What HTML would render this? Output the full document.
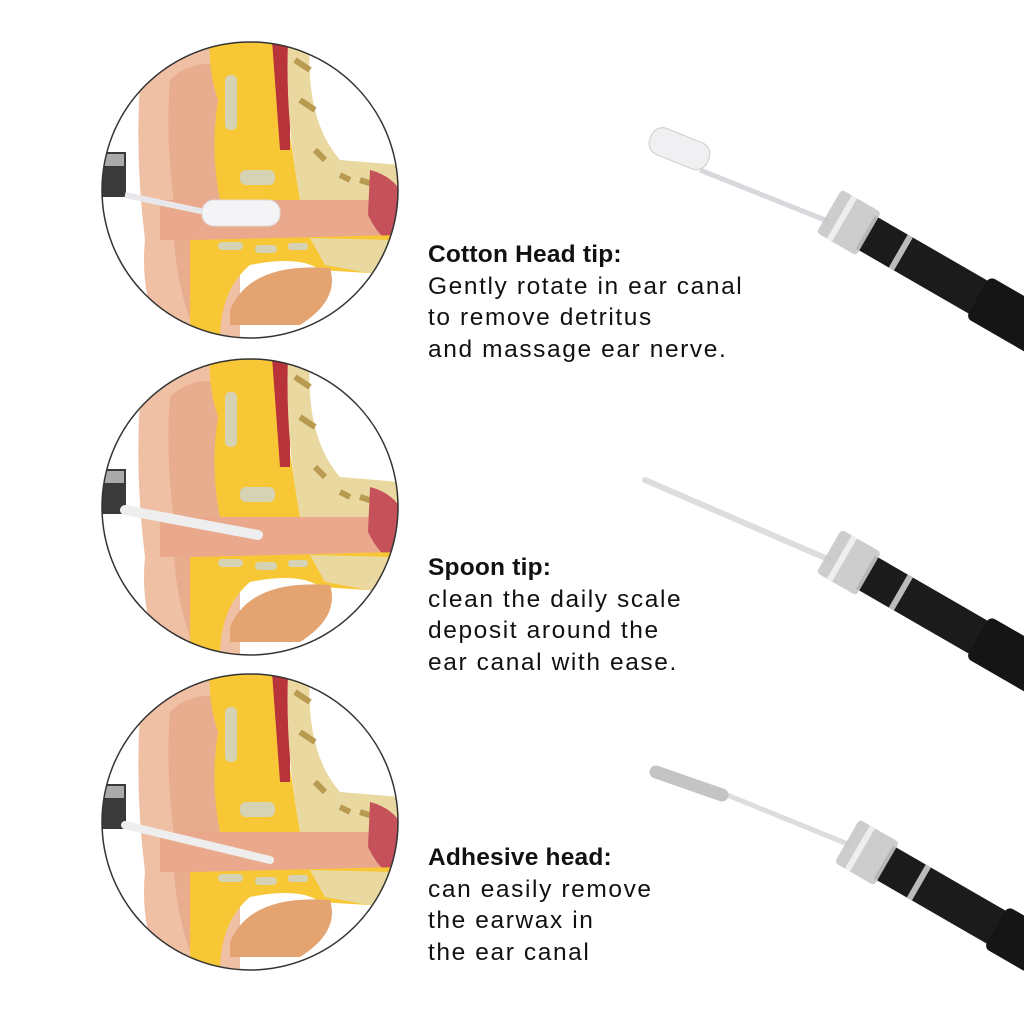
<!DOCTYPE html>
<html><head><meta charset="utf-8"><style>
body{margin:0;width:1024px;height:1024px;background:#fff;overflow:hidden;position:relative;font-family:"Liberation Sans",sans-serif}
.t{position:absolute;left:428px;font-size:24.5px;line-height:31.5px;color:#111;letter-spacing:1.6px}
.t b{font-weight:bold;letter-spacing:0.2px}
</style></head><body>
<svg width="1024" height="1024" style="position:absolute;left:0;top:0">
<defs>
<clipPath id="c"><circle cx="150" cy="150" r="148"/></clipPath>
<g id="ear">
<g clip-path="url(#c)">
<rect width="300" height="300" fill="#fff"/>
<path d="M40 40 Q60 10 110 5 L140 0 L140 300 L60 300 Q40 250 45 200 Q35 120 40 40Z" fill="#efc0a4"/>
<path d="M70 40 Q90 20 120 25 L120 280 L90 280 Q70 220 75 170 Q65 100 70 40Z" fill="#e8ac8e"/>
<path d="M110 0 L175 0 L200 160 L120 160 Q110 110 118 60 Q108 30 110 0Z" fill="#f7c736"/>
<rect x="125" y="35" width="12" height="55" rx="5" fill="#d6d2b4"/>
<rect x="140" y="130" width="35" height="15" rx="6" fill="#d6d2b4"/>
<path d="M172 0 L190 0 L190 110 L180 110Z" fill="#b8333a"/>
<path d="M188 0 L210 0 Q205 80 240 120 L300 125 L300 165 L200 160 Q185 80 188 0Z" fill="#e9d9a0"/>
<path d="M195 20 L210 30 M200 60 L215 70 M215 110 L225 120 M240 135 L250 140 M260 140 L275 145" stroke="#b89a50" stroke-width="6"/>
<path d="M60 160 L300 160 L300 200 L60 200Z" fill="#eaa98c"/>
<path d="M270 130 Q290 135 300 150 L300 210 Q280 200 268 175Z" fill="#c5525a"/>
<path d="M90 200 L300 195 L300 235 L220 230 Q200 215 150 225 Q120 250 120 300 L90 300Z" fill="#f7c736"/>
<path d="M210 198 L290 200 L280 235 L225 225Z" fill="#e9d9a0"/>
<rect x="118" y="202" width="25" height="8" rx="4" fill="#d6d2b4"/>
<rect x="155" y="205" width="22" height="8" rx="4" fill="#d6d2b4"/>
<rect x="188" y="203" width="20" height="7" rx="3" fill="#d6d2b4"/>
<path d="M130 270 Q150 222 230 228 Q240 260 200 285 L130 285Z" fill="#e4a472"/>
<rect x="0" y="112" width="26" height="45" fill="#3a3a3a"/>
<rect x="2" y="114" width="22" height="12" fill="#aaa"/>
</g>
<circle cx="150" cy="150" r="148" fill="none" stroke="#333" stroke-width="1.5"/>
</g>
<g id="tool">
<rect x="20" y="-19" width="260" height="38" fill="#1b1b1b"/>
<rect x="150" y="-24" width="140" height="48" rx="6" fill="#151515"/>
<rect x="-22" y="-25" width="46" height="50" rx="4" fill="#c8c8c8" opacity="0.9"/>
<rect x="-10" y="-25" width="6" height="50" fill="#eee"/>
<rect x="58" y="-19" width="6" height="38" fill="#bbb"/>
</g>
</defs>
<use href="#ear" x="100" y="40"/>
<use href="#ear" x="100" y="357"/>
<use href="#ear" x="100" y="672"/>
<path d="M125 195 L205 212" stroke="#e8e8ec" stroke-width="6"/>
<rect x="202" y="200" width="78" height="26" rx="12" fill="#f4f4f6" stroke="#ddd"/>
<path d="M125 510 L258 535" stroke="#eee" stroke-width="10" stroke-linecap="round"/>
<path d="M125 825 L270 860" stroke="#eee" stroke-width="8" stroke-linecap="round"/>
<path d="M700 170 L830 222" stroke="#d8d8dc" stroke-width="5"/>
<rect x="648" y="135" width="62" height="28" rx="12" fill="#f0f0f2" stroke="#ccc" transform="rotate(22 680 150)"/>
<use href="#tool" transform="translate(848 222) rotate(30)"/>
<path d="M645 480 L830 560" stroke="#ddd" stroke-width="6" stroke-linecap="round"/>
<use href="#tool" transform="translate(848 562) rotate(30)"/>
<path d="M720 792 L850 845" stroke="#ddd" stroke-width="5" stroke-linecap="round"/>
<path d="M656 772 L722 795" stroke="#c4c4c4" stroke-width="13" stroke-linecap="round"/>
<use href="#tool" transform="translate(866 852) rotate(30)"/>
</svg>
<div class="t" style="top:239px"><b>Cotton Head tip:</b><br>Gently rotate in ear canal<br>to remove detritus<br>and massage ear nerve.</div>
<div class="t" style="top:552px"><b>Spoon tip:</b><br>clean the daily scale<br>deposit around the<br>ear canal with ease.</div>
<div class="t" style="top:842px"><b>Adhesive head:</b><br>can easily remove<br>the earwax in<br>the ear canal</div>
</body></html>
